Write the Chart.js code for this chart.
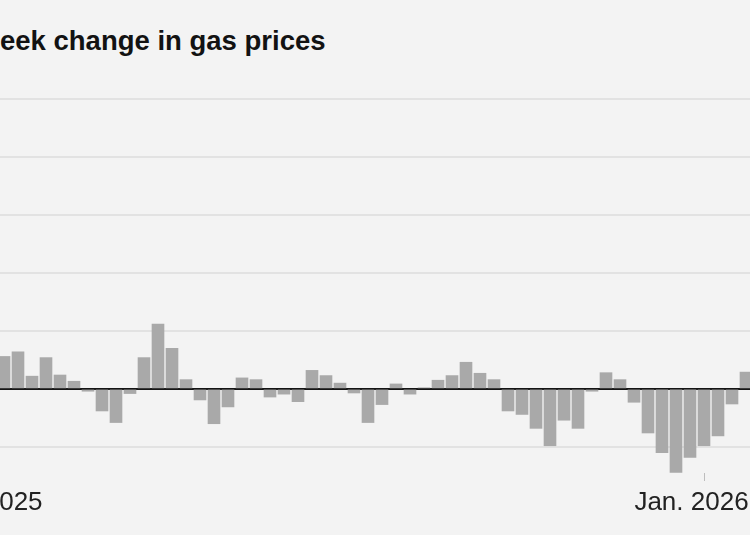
<!DOCTYPE html>
<html>
<head>
<meta charset="utf-8">
<script src="https://cdn.jsdelivr.net/npm/chart.js@4/dist/chart.umd.min.js"></script>
<style>
  html, body { margin: 0; padding: 0; width: 750px; height: 535px; overflow: hidden; background: #f3f3f3; }
  #title { position: absolute; left: 0px; top: 27px; font-family: "Liberation Sans", Arial, sans-serif; font-weight: bold; font-size: 27.5px; line-height: 27px; color: #121212; white-space: nowrap; }
  #wrap { position: absolute; left: -150px; top: 0; width: 960px; height: 535px; }
</style>
</head>
<body>
<div id="title">eek change in gas prices</div>
<div id="wrap"><canvas id="c" width="960" height="535"></canvas></div>
<script>
// Week-to-week change in gas prices (cents), one value per week
const weekIndex = [];
const changes = [
  2.8, 3.2, 1.1, 2.7, 1.2, 0.66, -0.2, -1.9, -2.9, -0.4,
  2.7, 5.6, 3.5, 0.8, -0.95, -3.0, -1.55, 0.95, 0.8, -0.7,
  -0.45, -1.1, 1.6, 1.15, 0.5, -0.35, -2.9, -1.35, 0.43, -0.45,
  0.1, 0.75, 1.15, 2.3, 1.35, 0.8, -1.9, -2.2, -3.4, -4.9,
  -2.7, -3.4, -0.2, 1.4, 0.8, -1.15, -3.8, -5.5, -7.2, -5.9,
  -4.9, -4.05, -1.3, 1.45
];
for (let i = 0; i < changes.length; i++) weekIndex.push(i);

const tickWeeks = [-0.43, 50];
const tickLabels = ["Jan. 2025", "Jan. 2026"];
const gridValues = [-5, 0, 5, 10, 15, 20, 25];
const yMin = -7.25, yMax = 25;

const points = weekIndex.map((w, i) => ({ x: w, y: changes[i] }));

new Chart(document.getElementById('c'), {
  type: 'bar',
  data: {
    datasets: [{
      data: points,
      backgroundColor: '#a9a9a9',
      borderWidth: 0,
      barThickness: 12
    }]
  },
  options: {
    responsive: false,
    animation: false,
    events: [],
    layout: { padding: { left: 105, right: 50, top: 99, bottom: 0 } },
    plugins: { legend: { display: false }, tooltip: { enabled: false }, title: { display: false } },
    scales: {
      x: {
        type: 'linear',
        min: -3.5,
        max: 54,
        offset: false,
        afterBuildTicks: (s) => { s.ticks = tickWeeks.map(v => ({ value: v })); },
        afterFit: (s) => { s.height = 62; },
        border: { display: false },
        grid: { offset: false, drawOnChartArea: false, drawTicks: true, tickLength: 8, color: '#bdbdbd', lineWidth: 1 },
        ticks: {
          autoSkip: false,
          maxRotation: 0,
          minRotation: 0,
          padding: 6,
          labelOffset: -12.5,
          color: '#222',
          font: { family: '"Liberation Sans", Arial, sans-serif', size: 26 },
          callback: (v, idx) => tickLabels[idx]
        }
      },
      y: {
        min: yMin,
        max: yMax,
        afterBuildTicks: (s) => { s.ticks = gridValues.map(v => ({ value: v })); },
        afterFit: (s) => { s.width = 0; },
        border: { display: false },
        grid: {
          drawTicks: false,
          color: (ctx) => ctx.tick && ctx.tick.value === 0 ? 'rgba(0,0,0,0)' : '#e2e2e2',
          lineWidth: 2
        },
        ticks: { display: false }
      },
      y2: {
        position: 'left',
        min: yMin,
        max: yMax,
        z: 1,
        afterBuildTicks: (s) => { s.ticks = [{ value: 0 }]; },
        afterFit: (s) => { s.width = 0; },
        border: { display: false },
        grid: { drawTicks: false, color: '#151515', lineWidth: 2 },
        ticks: { display: false }
      }
    }
  }
});
</script>
</body>
</html>
